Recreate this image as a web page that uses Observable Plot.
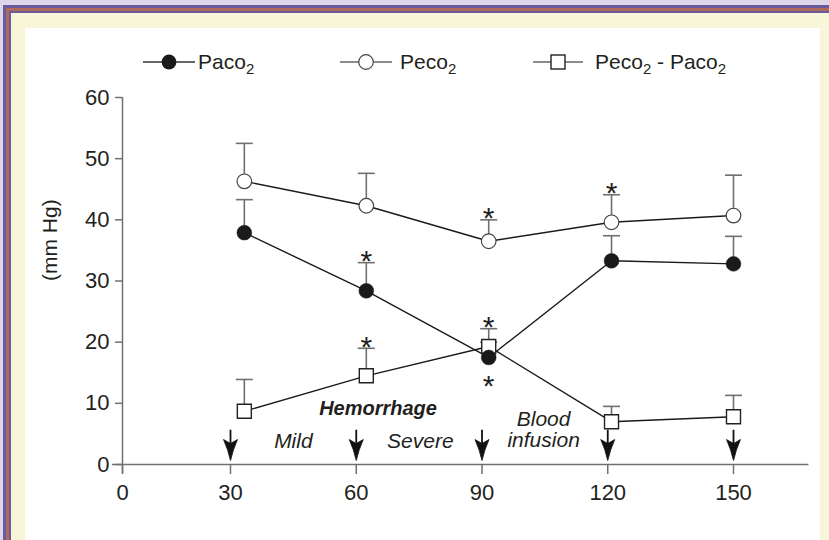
<!DOCTYPE html>
<html><head><meta charset="utf-8">
<script src="https://cdn.jsdelivr.net/npm/d3@7"></script>
<script src="https://cdn.jsdelivr.net/npm/@observablehq/plot@0.6"></script>
<style>
html,body{margin:0;padding:0;}
body{width:829px;height:540px;overflow:hidden;background:#dcd6e8;position:relative;font-family:"Liberation Sans",Arial,sans-serif;}
.f{position:absolute;right:0;bottom:0;}
#f1{left:3px;top:5px;background:#6b5a9d;}
#f2{left:6px;top:8px;background:#ad6a5d;}
#f3{left:9px;top:11px;background:#6b5a9d;}
#f4{left:11px;top:13px;background:#f9f5d8;}
#panel{left:25px;top:28px;right:9px;background:#fff;}
#chart{position:absolute;left:0;top:0;}
#legend{position:absolute;left:0;top:0;}
</style></head><body>
<div class="f" id="f1"></div><div class="f" id="f2"></div><div class="f" id="f3"></div><div class="f" id="f4"></div><div class="f" id="panel"></div>
<div id="chart"></div>
<svg id="legend" width="829" height="90"></svg>
<script>
// ---- data ----
const times = [33.3, 62.4, 91.6, 120.9, 150];
const paco2 = [37.9, 28.4, 17.5, 33.3, 32.8];
const paco2Upper = [43.3, 33.0, 20.0, 37.4, 37.3];
const peco2 = [46.3, 42.3, 36.5, 39.6, 40.7];
const peco2Upper = [52.5, 47.6, 40.0, 44.1, 47.3];
const gap = [8.7, 14.5, 19.3, 7.0, 7.8];
const gapUpper = [13.9, 19.0, 22.2, 9.5, 11.3];
const seriesNames = ["Paco2", "Peco2", "Peco2 - Paco2"];
const xTicks = [0, 30, 60, 90, 120, 150];
const yTicks = [0, 10, 20, 30, 40, 50, 60];
const arrowTimes = [30, 60, 90, 120, 150];
const starAboveTimes = [62.4, 91.6, 120.9, 62.4, 91.6];
const starAboveValues = [33.0, 40.0, 44.1, 19.0, 22.2];
const starBelowTimes = [91.6];
const starBelowValues = [17.5];
const phaseText = ["Mild", "Severe", "Blood\ninfusion"];
const phaseTimes = [45.0, 75.3, 104.7];
const phaseValues = [3.76, 3.76, 5.6];
const titleText = ["Hemorrhage"];
const titleTimes = [65.2];
const titleValues = [9.15];
const yLabel = "(mm Hg)";

// ---- styling ----
const ink = "#231f20";
const grayLine = "#707070";
const fontMain = '"Liberation Sans", Arial, sans-serif';

const rows = (vals, ups, name) => times.map((t, i) => ({t, v: vals[i], u: ups[i], series: name}));
const rPa = rows(paco2, paco2Upper, seriesNames[0]);
const rPe = rows(peco2, peco2Upper, seriesNames[1]);
const rGap = rows(gap, gapUpper, seriesNames[2]);
const all = [...rGap, ...rPa, ...rPe];

const capSymbol = {draw(ctx) { ctx.moveTo(-8.5, 0); ctx.lineTo(8.5, 0); }};
const headSymbol = {draw(ctx) {
  ctx.moveTo(0, 0);
  ctx.quadraticCurveTo(-2.5, -11, -7, -21);
  ctx.lineTo(0, -17);
  ctx.lineTo(7, -21);
  ctx.quadraticCurveTo(2.5, -11, 0, 0);
  ctx.closePath();
}};

const chart = Plot.plot({
  width: 829, height: 540,
  marginLeft: 122, marginRight: 96, marginTop: 97, marginBottom: 76,
  x: {type: "linear", domain: [0, 30, 150], range: [122, 230, 733]},
  y: {domain: [0, 60]},
  style: {background: "transparent", fontFamily: fontMain, fontSize: "22px", color: ink, overflow: "visible"},
  marks: [
    Plot.ruleY([0], {x1: -2.8, x2: 168, stroke: grayLine, strokeWidth: 1.5}),
    Plot.ruleX([0], {y1: -1.5, y2: 60, stroke: grayLine, strokeWidth: 1.5}),
    Plot.axisX({ticks: xTicks, tickSize: 10, tickPadding: 10, stroke: grayLine, strokeWidth: 1.5, fill: ink, fontSize: 22, tickFormat: d => String(d), label: null}),
    Plot.axisY({ticks: yTicks, tickSize: 7, tickPadding: 6, stroke: grayLine, strokeWidth: 1.5, fill: ink, fontSize: 22, tickFormat: d => String(d), label: null}),
    Plot.text([yLabel], {frameAnchor: "left", dx: -72, rotate: -90, fontSize: 21, fill: ink}),
    // arrows
    Plot.ruleX(arrowTimes, {x: d => d, y1: 2.5, y2: 5.6, stroke: "#111", strokeWidth: 1.8}),
    Plot.dot(arrowTimes, {x: d => d, y: 0.65, symbol: headSymbol, fill: "#111", stroke: "#111", strokeWidth: 0.8}),
    // error bars
    Plot.ruleX(all, {x: "t", y1: "v", y2: "u", stroke: grayLine, strokeWidth: 1.6}),
    Plot.dot(all, {x: "t", y: "u", symbol: capSymbol, stroke: grayLine, fill: "none", strokeWidth: 1.6}),
    // lines
    Plot.line(all, {x: "t", y: "v", z: "series", stroke: "#1a1a1a", strokeWidth: 1.4}),
    // markers
    Plot.dot(rGap, {x: "t", y: "v", symbol: "square", r: 7.9, fill: "white", stroke: "#222", strokeWidth: 1.4}),
    Plot.dot(rPe, {x: "t", y: "v", r: 7.3, fill: "white", stroke: "#444", strokeWidth: 1.2}),
    Plot.dot(rPa, {x: "t", y: "v", r: 7.4, fill: "#1a1a1a", stroke: "#1a1a1a", strokeWidth: 0.5}),
    // stars
    Plot.text(starAboveTimes, {x: d => d, y: (d, i) => starAboveValues[i], text: () => "*", fontSize: 30, dy: -1, fill: ink}),
    Plot.text(starBelowTimes, {x: d => d, y: (d, i) => starBelowValues[i], text: () => "*", fontSize: 30, dy: 29, fill: ink}),
    // annotations
    Plot.text(phaseText, {x: (d, i) => phaseTimes[i], y: (d, i) => phaseValues[i], text: d => d, fontSize: 21, lineHeight: 1.0, fontStyle: "italic", fill: ink}),
    Plot.text(titleText, {x: (d, i) => titleTimes[i], y: (d, i) => titleValues[i], text: d => d, fontSize: 20, fontStyle: "italic", fontWeight: "bold", fill: ink})
  ]
});
document.getElementById("chart").appendChild(chart);

// ---- legend ----
const lg = d3.select("#legend");
const lineStart = [143, 340, 533], lineLen = [52, 52, 50], textStart = [198, 400, 595];
const lineY = 62, baseY = 69;
seriesNames.forEach((name, i) => {
  const x0 = lineStart[i], cx = x0 + lineLen[i] / 2;
  lg.append("line").attr("x1", x0).attr("x2", x0 + lineLen[i]).attr("y1", lineY).attr("y2", lineY)
    .attr("stroke", i === 0 ? "#333" : "#666").attr("stroke-width", 1.4);
  if (i === 0) lg.append("circle").attr("cx", cx).attr("cy", lineY).attr("r", 7.4).attr("fill", "#1a1a1a");
  if (i === 1) lg.append("circle").attr("cx", cx).attr("cy", lineY).attr("r", 7.3).attr("fill", "white").attr("stroke", "#444").attr("stroke-width", 1.2);
  if (i === 2) lg.append("rect").attr("x", cx - 7).attr("y", lineY - 7).attr("width", 14).attr("height", 14).attr("fill", "white").attr("stroke", "#222").attr("stroke-width", 1.4);
  const t = lg.append("text").attr("x", textStart[i]).attr("y", baseY)
    .attr("font-family", fontMain).attr("font-size", 21).attr("fill", ink);
  const parts = name.split(/(2)/).filter(s => s.length);
  let shifted = false;
  parts.forEach(part => {
    if (part === "2") {
      t.append("tspan").attr("font-size", 15).attr("dy", 5).text("2");
      shifted = true;
    } else {
      const s = t.append("tspan").text(part);
      if (shifted) { s.attr("dy", -5); shifted = false; }
    }
  });
});
</script>
</body></html>
